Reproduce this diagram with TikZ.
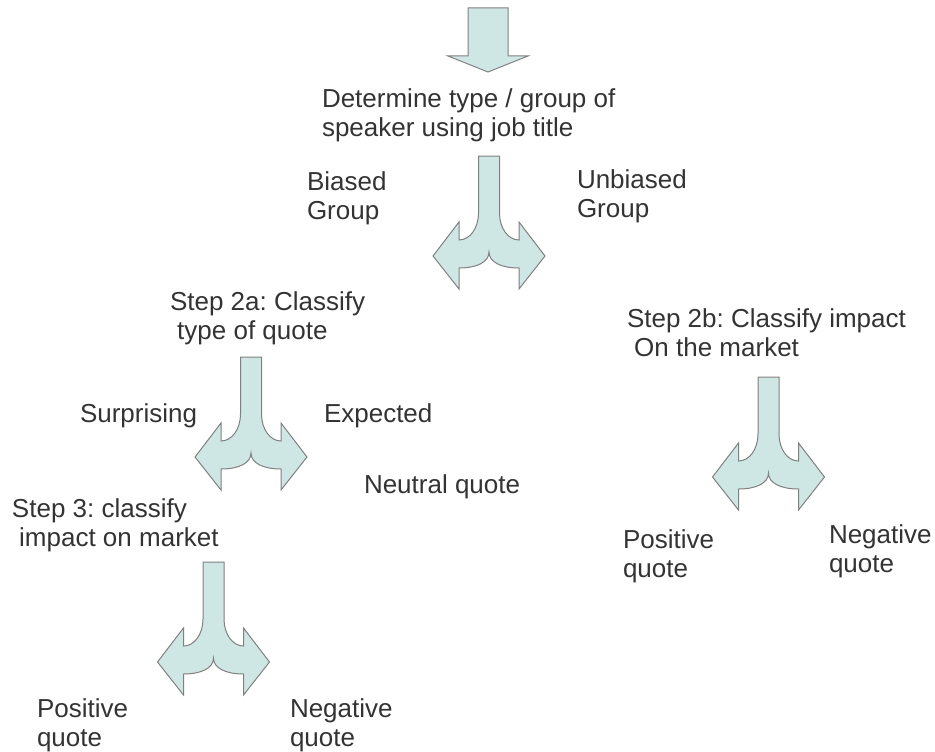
\documentclass[tikz,border=0pt]{standalone}
\usepackage{fontspec}
\setmainfont{Liberation Sans}
\frenchspacing
\definecolor{arrowfill}{RGB}{207,231,228}
\definecolor{arrowline}{RGB}{128,128,128}
\definecolor{txt}{RGB}{51,51,51}
\begin{document}
\begin{tikzpicture}[x=1pt,y=-1pt,
  arrowstyle/.style={fill=arrowfill,draw=arrowline,line width=1pt,line join=miter},
  lbl/.style={anchor=base west,inner sep=0pt,outer sep=0pt,align=left,text=txt,
    font=\fontsize{26}{28.5}\selectfont\frenchspacing},
  splitarrow/.pic={
    \filldraw[arrowstyle] (-10.5,0) -- (-10.5,57)
      .. controls (-10.5,72) and (-19,84) .. (-30,84)
      -- (-30,66) -- (-56,100) -- (-30,133) -- (-30,112)
      .. controls (-12,112) and (0,106) .. (0,96)
      .. controls (0,106) and (12,112) .. (30,112)
      -- (30,133) -- (56,100) -- (30,66) -- (30,84)
      .. controls (19,84) and (10.5,72) .. (10.5,57)
      -- (10.5,0) -- cycle;
  }]
\useasboundingbox (0,0) rectangle (935,752);
% top arrow
\filldraw[arrowstyle] (468,8) -- (508,8) -- (508,56) -- (528,56) -- (488,72) -- (448,56) -- (468,56) -- cycle;
% split arrows
\pic at (489,156) {splitarrow};
\pic at (251,357) {splitarrow};
\pic at (768.5,377) {splitarrow};
\pic at (213.5,562) {splitarrow};
% labels (base anchor of a two-line node = baseline of its last line)
\node[lbl] (determine) at (322,136) {Determine type / group of\\speaker using job title};
\node[lbl] (biased) at (307,219) {Biased\\Group};
\node[lbl] (unbiased) at (577,217) {Unbiased\\Group};
\node[lbl] (step2a) at (170,339) {Step 2a: Classify\\\hspace*{0.278em}type of quote};
\node[lbl] (step2b) at (627,356) {Step 2b: Classify impact\\\hspace*{0.278em}On the market};
\node[lbl] (surprising) at (80,422) {Surprising};
\node[lbl] (expected) at (324,422) {Expected};
\node[lbl] (neutral) at (364,493) {Neutral quote};
\node[lbl] (step3) at (12,546) {Step 3: classify\\\hspace*{0.278em}impact on market};
\node[lbl] (posR) at (623,577) {Positive\\quote};
\node[lbl] (negR) at (829,572) {Negative\\quote};
\node[lbl] (posB) at (37,746) {Positive\\quote};
\node[lbl] (negB) at (290,746) {Negative\\quote};
\end{tikzpicture}
\end{document}
